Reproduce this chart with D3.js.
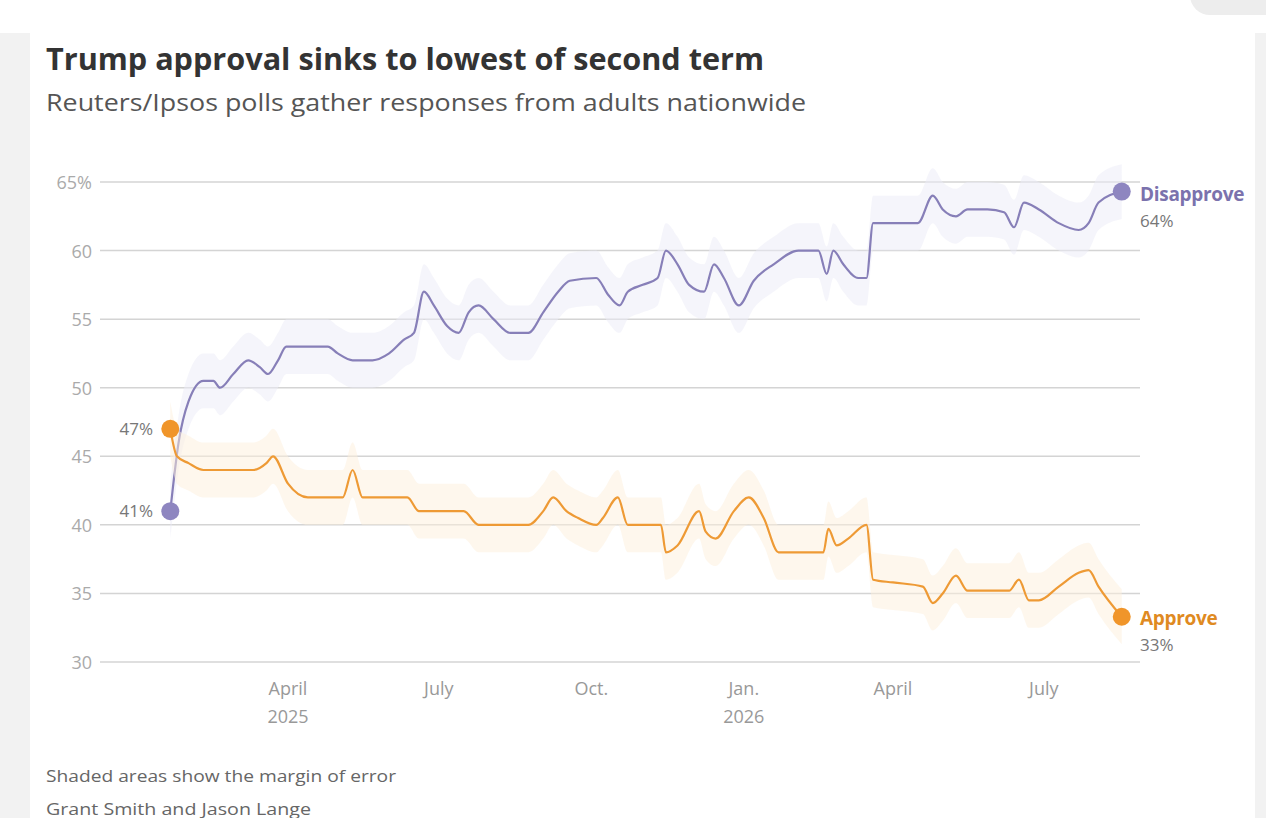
<!DOCTYPE html>
<html><head><meta charset="utf-8">
<script src="https://cdn.jsdelivr.net/npm/d3@7"></script>
<style>body{margin:0;background:#fff;overflow:hidden}svg{display:block}</style>
</head><body>
<svg id="c" width="1266" height="818"></svg>
<script>
// days since Jan 20, 2025
const disDays=[0,5,11,20,26,30,38,47,54,59,65,70,77,95,101,110,122,132,141,147,153,159,167,174,180,186,195,205,216,225,234,241,257,264,271,276,285,294,299,306,313,322,328,334,343,352,364,379,391,396,400,406,415,420,424,439,451,460,466,474,481,493,503,509,515,524,536,548,554,560,574];
const disVals=[41,46,49,50.5,50.5,50,51,52,51.5,51,52,53,53,53,52.5,52,52,52.5,53.5,54,57,56,54.5,54,55.5,56,55,54,54,55.5,57,57.8,58,56.8,56,57,57.5,58,60,59,57.5,57,59,58,56,57.8,59,60,60,58.3,60,59,58,58,62,62,62,64,63,62.5,63,63,62.8,61.7,63.5,63,62,61.5,62,63.5,64.3];
const appDays=[0,4,11,20,32,50,58,62,71,83,95,104,110,116,125,143,150,165,177,186,210,216,225,231,239,246,257,261,270,276,285,296,299,306,319,323,329,340,349,358,367,379,394,397,402,409,420,424,436,454,460,466,474,481,490,506,512,518,524,536,548,554,560,574];
const appVals=[47,45,44.5,44,44,44,44.5,45,43,42,42,42,44,42,42,42,41,41,41,40,40,40,41,42,41,40.5,40,40.5,42,40,40,40,38,38.5,41,39.5,39,41,42,40.5,38,38,38,39.7,38.5,39,40,36,35.8,35.5,34.3,35,36.3,35.2,35.2,35.2,36,34.5,34.5,35.5,36.5,36.7,35.5,33.3];
const marginOfError=2;
const yTicks=[30,35,40,45,50,55,60,65];
const xTicks=[["2025-04-01","April","2025"],["2025-07-01","July",""],["2025-10-01","Oct.",""],["2026-01-01","Jan.","2026"],["2026-04-01","April",""],["2026-07-01","July",""]];
const startDate=new Date(2025,0,20);

const svg=d3.select("#c");
const F="'Open Sans',sans-serif";
svg.append("rect").attr("x",0).attr("y",33).attr("width",30).attr("height",800).attr("fill","#f2f2f2");
svg.append("rect").attr("x",1255).attr("y",33).attr("width",20).attr("height",800).attr("fill","#f2f2f2");
svg.append("rect").attr("x",1190).attr("y",-30).attr("width",120).attr("height",45).attr("rx",20).attr("fill","#ededed");

const x=d3.scaleTime().domain([new Date(2025,0,1),new Date(2026,3,1)]).range([138.8,893]);
const y=d3.scaleLinear().domain([30,65]).range([662,182]);
const dt=d=>d3.timeDay.offset(startDate,d);

svg.append("text").attr("x",46).attr("y",70).attr("font-family",F).attr("font-weight",700).attr("font-size",30).attr("fill","#333").attr("textLength",718).attr("lengthAdjust","spacingAndGlyphs").text("Trump approval sinks to lowest of second term");
svg.append("text").attr("x",46).attr("y",111).attr("font-family",F).attr("font-size",24).attr("fill","#555").attr("textLength",760).attr("lengthAdjust","spacingAndGlyphs").text("Reuters/Ipsos polls gather responses from adults nationwide");

const g=svg.append("g");
yTicks.forEach(t=>{
  g.append("line").attr("x1",100).attr("x2",1140).attr("y1",y(t)).attr("y2",y(t)).attr("stroke","#d4d4d4").attr("stroke-width",1.5);
  g.append("text").attr("x",92).attr("y",y(t)+7).attr("text-anchor","end").attr("font-family",F).attr("font-size",18).attr("fill","#aaa").text(t===65?"65%":t);
});
xTicks.forEach(([d,a,b])=>{
  const xx=x(new Date(d+"T00:00"));
  g.append("text").attr("x",xx).attr("y",695).attr("text-anchor","middle").attr("font-family",F).attr("font-size",18).attr("fill","#999").text(a);
  if(b) g.append("text").attr("x",xx).attr("y",723).attr("text-anchor","middle").attr("font-family",F).attr("font-size",18).attr("fill","#999").text(b);
});

function series(days,vals,lineC,bandC){
  const pts=days.map((d,i)=>({d:dt(d),v:vals[i]}));
  g.append("path").datum(pts).attr("fill",bandC).attr("opacity",0.5)
    .attr("d",d3.area().curve(d3.curveMonotoneX).x(p=>x(p.d)).y0(p=>y(p.v-marginOfError)).y1(p=>y(p.v+marginOfError)));
  g.append("path").datum(pts).attr("fill","none").attr("stroke",lineC).attr("stroke-width",2.2)
    .attr("d",d3.line().curve(d3.curveMonotoneX).x(p=>x(p.d)).y(p=>y(p.v)));
  return pts;
}
const dp=series(disDays,disVals,"#877fb8","#ecebf7");
const ap=series(appDays,appVals,"#ee9a35","#fdf0dc");
function dot(p,c){g.append("circle").attr("cx",x(p.d)).attr("cy",y(p.v)).attr("r",9).attr("fill",c);}
dot(dp[0],"#8e86c0");dot(ap[0],"#f0952a");dot(dp[dp.length-1],"#8e86c0");dot(ap[ap.length-1],"#f0952a");
function lab(xx,yy,t,anchor){g.append("text").attr("x",xx).attr("y",yy).attr("text-anchor",anchor).attr("font-family",F).attr("font-size",17).attr("fill","#777").text(t);}
lab(153,y(47)+6,"47%","end");lab(153,y(41)+6,"41%","end");
const le=dp[dp.length-1], la=ap[ap.length-1];
g.append("text").attr("x",1140).attr("y",y(le.v)+9).attr("font-family",F).attr("font-weight",700).attr("font-size",19).attr("fill","#7b72ad").attr("letter-spacing",-0.3).text("Disapprove");
lab(1140,y(le.v)+35,"64%","start");
g.append("text").attr("x",1140).attr("y",y(la.v)+8).attr("font-family",F).attr("font-weight",700).attr("font-size",19).attr("fill","#df8a22").attr("letter-spacing",-0.3).text("Approve");
lab(1140,y(la.v)+34,"33%","start");

svg.append("text").attr("x",46).attr("y",782).attr("font-family",F).attr("font-size",17).attr("fill","#666").attr("textLength",350).attr("lengthAdjust","spacingAndGlyphs").text("Shaded areas show the margin of error");
svg.append("text").attr("x",46).attr("y",815).attr("font-family",F).attr("font-size",17).attr("fill","#666").attr("textLength",265).attr("lengthAdjust","spacingAndGlyphs").text("Grant Smith and Jason Lange");
</script></body></html>
